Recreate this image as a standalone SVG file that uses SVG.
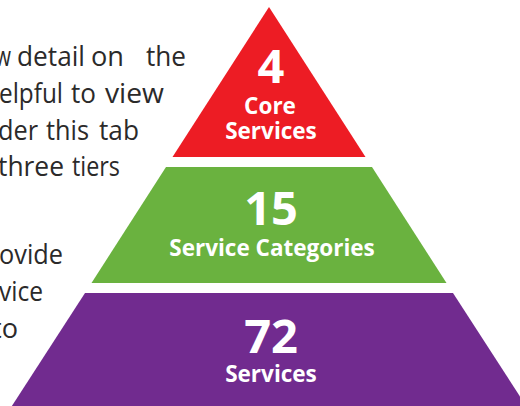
<svg xmlns="http://www.w3.org/2000/svg" width="520" height="406" viewBox="0 0 520 406">
<style>
.body{font-family:"Open Sans","Noto Sans","Liberation Sans",sans-serif;font-size:27px;fill:#2b2a2a}
.num{font-family:"Open Sans","Noto Sans","Liberation Sans",sans-serif;font-weight:700;font-size:47px;fill:#ffffff;text-anchor:middle}
.lbl{font-family:"Open Sans","Noto Sans","Liberation Sans",sans-serif;font-weight:700;font-size:22.5px;fill:#ffffff;text-anchor:middle}
.e{text-anchor:end}
</style>
<rect width="520" height="406" fill="#ffffff"/>
<g id="body-text" class="body">
  <text x="11" y="66" class="body e" textLength="16" lengthAdjust="spacingAndGlyphs">w</text>
  <text x="17" y="66" class="body" textLength="68" lengthAdjust="spacingAndGlyphs">detail</text>
  <text x="91" y="66" class="body" textLength="33" lengthAdjust="spacingAndGlyphs">on</text>
  <text x="146" y="66" class="body" textLength="40" lengthAdjust="spacingAndGlyphs">the</text>
  <text x="63" y="103" class="body e" textLength="64" lengthAdjust="spacingAndGlyphs">elpful</text>
  <text x="71" y="103" class="body" textLength="25" lengthAdjust="spacingAndGlyphs">to</text>
  <text x="105" y="103" class="body" textLength="59" lengthAdjust="spacingAndGlyphs">view</text>
  <text x="38" y="140" class="body e" textLength="40" lengthAdjust="spacingAndGlyphs">der</text>
  <text x="46" y="140" class="body" textLength="43" lengthAdjust="spacingAndGlyphs">this</text>
  <text x="99" y="140" class="body" textLength="40" lengthAdjust="spacingAndGlyphs">tab</text>
  <text x="64" y="176" class="body e" textLength="66" lengthAdjust="spacingAndGlyphs">three</text>
  <text x="72" y="176" class="body" textLength="48" lengthAdjust="spacingAndGlyphs">tiers</text>
  <text x="63" y="264" class="body e" textLength="64" lengthAdjust="spacingAndGlyphs">ovide</text>
  <text x="43" y="301" class="body e" textLength="44" lengthAdjust="spacingAndGlyphs">vice</text>
  <text x="18" y="338" class="body e" textLength="26" lengthAdjust="spacingAndGlyphs">to</text>
</g>
<g id="tier-core">
  <polygon points="269,7 365.5,157 172.5,157" fill="#ED1C24"/>
  <text x="271" y="83" class="num">4</text>
  <text x="270" y="114" class="lbl">Core</text>
  <text x="271" y="139" class="lbl">Services</text>
</g>
<g id="tier-categories">
  <polygon points="166,167 372,167 446.5,283 91.5,283" fill="#6AB23F"/>
  <text x="271" y="225" class="num">15</text>
  <text x="272" y="256" class="lbl">Service Categories</text>
</g>
<g id="tier-services">
  <polygon points="85,293 453,293 530,412 8,412" fill="#712B8F"/>
  <text x="271" y="353" class="num">72</text>
  <text x="271" y="382" class="lbl">Services</text>
</g>
<g id="connectors"/>
</svg>
